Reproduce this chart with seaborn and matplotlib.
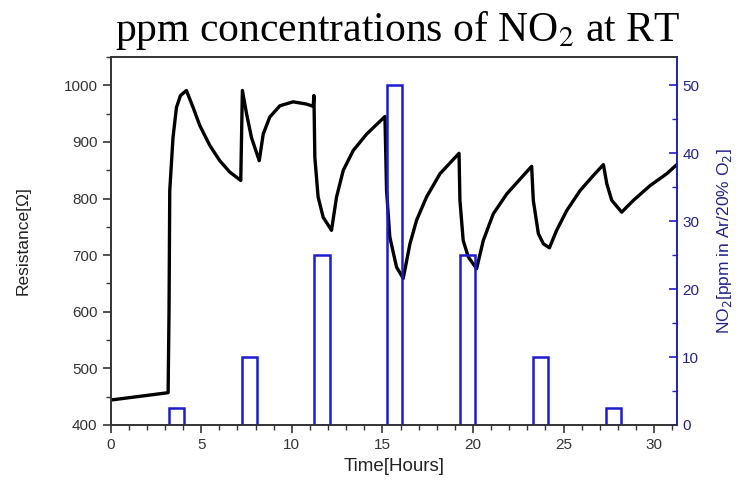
import numpy as np
import pandas as pd
import matplotlib
matplotlib.use("Agg")
import matplotlib.pyplot as plt
import seaborn as sns
from matplotlib.ticker import MultipleLocator

# Resistance curve (hours, ohm)
time_h = [0.0, 3.17, 3.22, 3.26, 3.44, 3.63, 3.85, 4.18,
          4.55, 4.92, 5.47, 6.02, 6.57, 7.18,
          7.27, 7.5, 7.77, 8.2,
          8.42, 8.78, 9.34, 10.07, 10.81, 11.18,
          11.22, 11.27, 11.45, 11.73, 12.19,
          12.47, 12.84, 13.39, 14.13, 15.14,
          15.23, 15.41, 15.78, 16.15,
          16.52, 16.89, 17.44, 18.18, 19.23,
          19.28, 19.46, 19.74, 20.2,
          20.57, 21.12, 21.86, 22.7, 23.24,
          23.33, 23.61, 23.89, 24.22,
          24.62, 25.18, 25.91, 26.65, 27.2,
          27.39, 27.66, 28.21,
          28.86, 29.78, 30.7, 31.25]
resistance = [444, 457, 600, 814, 908, 961, 982, 991,
              961, 929, 894, 867, 847, 832,
              991, 950, 908, 867,
              914, 944, 964, 971, 967, 963,
              982, 873, 803, 767, 744,
              803, 850, 885, 914, 945,
              814, 732, 679, 659,
              720, 762, 803, 844, 880,
              797, 726, 697, 676,
              726, 773, 808, 838, 857,
              797, 738, 720, 713,
              744, 779, 814, 841, 860,
              826, 797, 776,
              797, 823, 844, 860]

# NO2 pulses (start hour, width, ppm)
pulse_start = [3.2, 7.25, 11.25, 15.27, 19.28, 23.3, 27.33]
pulse_width = [0.83, 0.8, 0.83, 0.81, 0.83, 0.83, 0.83]
pulse_ppm = [2.5, 10, 25, 50, 25, 10, 2.5]

sns.set_style("ticks")
plt.rcParams['font.family'] = ['Liberation Sans', 'DejaVu Sans']

fig = plt.figure(figsize=(7.38, 4.84), dpi=100)
ax = fig.add_axes([0.150, 0.122, 0.767, 0.760])
ax2 = ax.twinx()

df = pd.DataFrame({"t": time_h, "r": resistance})
sns.lineplot(data=df, x="t", y="r", ax=ax, color="black", linewidth=2.4)

blue = "#1c1cd0"
navy = "#22228a"
ax2.bar(pulse_start, pulse_ppm, width=pulse_width, align="edge",
        fill=False, edgecolor=blue, linewidth=1.8)

ax.set_xlim(0, 31.25)
ax.set_ylim(400, 1050)
ax2.set_ylim(0, 54.17)

ax.xaxis.set_major_locator(MultipleLocator(5))
ax.xaxis.set_minor_locator(MultipleLocator(1))
ax.yaxis.set_major_locator(MultipleLocator(100))
ax.yaxis.set_minor_locator(MultipleLocator(50))
ax2.yaxis.set_major_locator(MultipleLocator(10))
ax2.yaxis.set_minor_locator(MultipleLocator(5))

ax.set_xlabel("Time[Hours]", fontsize=13.5, color="#222222", labelpad=4)
ax.set_ylabel("Resistance[Ω]", fontsize=12.5, color="#222222", labelpad=24)
ax2.set_ylabel("NO$_2$[ppm in Ar/20% O$_2$]", fontsize=12.5, color=navy, labelpad=11)

ax.tick_params(axis="both", which="major", labelsize=11, length=6, width=1.2,
               direction="out", colors="#333333", labelcolor="#333333")
ax.tick_params(axis="both", which="minor", length=3.5, width=1.0, direction="out",
               colors="#333333")
ax2.tick_params(axis="y", which="major", labelsize=11, length=6, width=1.2,
                direction="in", colors=blue, labelcolor=navy, pad=4)
ax2.tick_params(axis="y", which="minor", length=3.5, width=1.0, direction="in",
                colors=blue)

for a in (ax, ax2):
    for s in a.spines.values():
        s.set_visible(True)
        s.set_linewidth(1.2)
        s.set_color("#333333")
ax2.spines["right"].set_color(blue)

fig.text(0.539, 0.938, "ppm concentrations of NO$_2$ at RT", ha="center", va="center",
         fontsize=30, color="black", family="Liberation Serif", math_fontfamily="stix")

fig.savefig("out.png", dpi=100)
